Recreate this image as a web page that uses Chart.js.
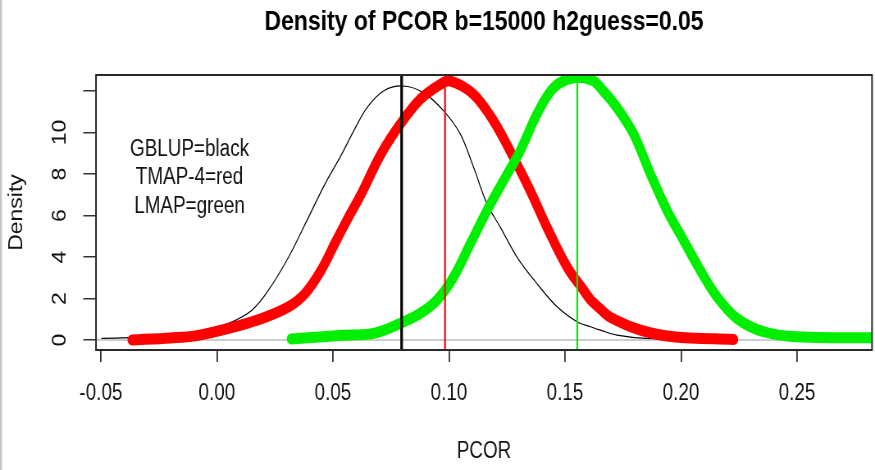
<!DOCTYPE html>
<html lang="en">
<head>
    <meta charset="UTF-8">
    <title>Density of PCOR</title>
    <script src="https://cdn.jsdelivr.net/npm/chart.js"></script>
    <style>
        html, body { margin: 0; padding: 0; background: #fff; overflow: hidden; }
        /* the whole figure is drawn wide and squeezed to 875px */
        #wrap { width: 1067px; height: 470px; transform: scaleX(0.82005); transform-origin: 0 0; }
    </style>
</head>
<body>
    <div id="wrap"><canvas id="densChart" width="1067" height="470"></canvas></div>

    <script>
        // density curves (PCOR, density)
        const gblupX = [-0.0496, -0.0238, -0.0079, 0.005, 0.0151, 0.0222, 0.0309, 0.0395, 0.0467, 0.0535, 0.0593,
                        0.0647, 0.0718, 0.0800, 0.0890, 0.0977, 0.1049, 0.1106, 0.1164, 0.1221, 0.1293, 0.1379,
                        0.1466, 0.1552, 0.1610, 0.1652, 0.1724, 0.1850, 0.2100];
        const gblupY = [0.08, 0.16, 0.32, 0.80, 1.44, 2.40, 4.00, 5.92, 7.55, 8.90, 10.15,
                        11.2, 12.0, 12.24, 11.92, 11.04, 9.92, 8.32, 6.56, 5.44, 4.00, 2.72,
                        1.60, 0.88, 0.64, 0.48, 0.24, 0.08, 0.02];

        const tmapX = [-0.0366, -0.0200, -0.0094, 0.005, 0.0194, 0.0309, 0.038, 0.0451, 0.051, 0.0567, 0.0618,
                       0.0704, 0.079, 0.0876, 0.0963, 0.1006, 0.1106, 0.1192, 0.1278, 0.135, 0.1422, 0.1509,
                       0.158, 0.1609, 0.1652, 0.1695, 0.1825, 0.1968, 0.2227];
        const tmapY = [0.0, 0.1, 0.2, 0.56, 1.04, 1.6, 2.24, 3.4, 4.7, 5.92, 6.95,
                       8.9, 10.4, 11.6, 12.32, 12.48, 11.84, 10.56, 8.8, 7.2, 5.44, 3.52,
                       2.4, 1.95, 1.5, 1.1, 0.48, 0.16, 0.03];

        const lmapX = [0.032, 0.053, 0.0675, 0.079, 0.0876, 0.0948, 0.102, 0.1092, 0.1164, 0.1235, 0.1307,
                       0.1379, 0.1451, 0.1537, 0.162, 0.1665, 0.1724, 0.1796, 0.1868, 0.194, 0.2011, 0.2083,
                       0.2155, 0.2241, 0.2356, 0.25, 0.29];
        const lmapY = [0.05, 0.22, 0.32, 0.8, 1.28, 1.92, 3.04, 4.64, 6.24, 7.68, 9.12,
                       10.88, 12.16, 12.64, 12.5, 12.0, 11.2, 9.92, 8.0, 6.24, 4.8, 3.36,
                       2.08, 1.04, 0.4, 0.16, 0.1];

        // mean PCOR of GBLUP, TMAP-4, LMAP
        const meanPcor = [0.0796, 0.0983, 0.1553];

        const xTicks = [-0.05, 0, 0.05, 0.10, 0.15, 0.20, 0.25];
        const xTickLabels = ['-0.05', '0.00', '0.05', '0.10', '0.15', '0.20', '0.25'];
        const yTicks = [0, 2, 4, 6, 8, 10, 12];
        const yTickLabels = ['0', '2', '4', '6', '8', '10', ''];
        const legendLines = ['GBLUP=black', 'TMAP-4=red', 'LMAP=green'];

        const xMin = -0.0521, xMax = 0.2823;
        const yMin = -0.48, yMax = 12.77;

        const pts = (xs, ys) => xs.map((x, i) => ({ x: x, y: ys[i] }));
        const vline = v => [{ x: v, y: yMin }, { x: v, y: yMax }];

        const FONT = 'Liberation Sans, Arial, sans-serif';

        // box, left frame edge and the colour key text
        const decor = {
            id: 'decor',
            afterDraw(chart) {
                const { ctx, chartArea: a, scales: { x, y } } = chart;
                ctx.save();
                ctx.fillStyle = '#c4c4c4';
                ctx.fillRect(0, 0, 2.4, chart.height);
                ctx.strokeStyle = '#2a2a2a';
                ctx.lineWidth = 2;
                ctx.strokeRect(a.left, a.top, a.right - a.left, a.bottom - a.top);
                ctx.fillStyle = '#111';
                ctx.font = '23px ' + FONT;
                ctx.textAlign = 'center';
                ctx.textBaseline = 'middle';
                const keyY = [9.15, 7.8, 6.45];
                legendLines.forEach((t, i) => {
                    ctx.fillText(t, x.getPixelForValue(-0.0118), y.getPixelForValue(keyY[i]));
                });
                ctx.restore();
            }
        };

        const line = (data, color, width, order) => ({
            data: data, borderColor: color, borderWidth: width, pointRadius: 0,
            tension: 0.35, borderCapStyle: 'round', borderJoinStyle: 'round',
            clip: 0, order: order
        });

        new Chart(document.getElementById('densChart'), {
            type: 'line',
            data: {
                datasets: [
                    line(vline(meanPcor[0]), '#000', 3.2, 0),
                    line(vline(meanPcor[1]), '#ff0000', 2.2, 0),
                    line(vline(meanPcor[2]), '#00ee00', 2.2, 0),
                    line(pts(lmapX, lmapY), '#00ee00', 11, 1),
                    line(pts(tmapX, tmapY), '#ff0000', 11, 2),
                    line(pts(gblupX, gblupY), '#000', 1.2, 3),
                    line([{ x: xMin, y: 0 }, { x: xMax, y: 0 }], '#bdbdbd', 1.5, 4)
                ]
            },
            options: {
                responsive: false,
                animation: false,
                layout: { padding: { left: 0, right: 3.65, top: 0, bottom: 0 } },
                plugins: {
                    legend: { display: false },
                    tooltip: { enabled: false },
                    title: {
                        display: true,
                        fullSize: false,
                        text: 'Density of PCOR b=15000 h2guess=0.05',
                        color: '#000',
                        font: { family: FONT, size: 28, weight: 'bold' },
                        padding: { top: 5.2, bottom: 36.2 }
                    }
                },
                scales: {
                    x: {
                        type: 'linear',
                        min: xMin,
                        max: xMax,
                        afterFit: s => { s.height = 120; },
                        afterBuildTicks: s => { s.ticks = xTicks.map(v => ({ value: v })); },
                        ticks: {
                            callback: (v, i) => xTickLabels[i],
                            color: '#111',
                            font: { family: FONT, size: 23 },
                            padding: 18.2,
                            maxRotation: 0,
                            autoSkip: false
                        },
                        grid: { drawOnChartArea: false, tickLength: 12, color: '#333', lineWidth: 1.8 },
                        border: { display: false },
                        title: {
                            display: true,
                            text: 'PCOR',
                            color: '#111',
                            font: { family: FONT, size: 23 },
                            padding: { top: 0, bottom: 4.2 }
                        }
                    },
                    y: {
                        type: 'linear',
                        min: yMin,
                        max: yMax,
                        afterFit: s => { s.width = 117.07; },
                        afterBuildTicks: s => { s.ticks = yTicks.map(v => ({ value: v })); },
                        ticks: {
                            callback: (v, i) => yTickLabels[i],
                            color: '#111',
                            font: { family: FONT, size: 23 },
                            padding: 15.6,
                            minRotation: 90,
                            maxRotation: 90,
                            crossAlign: 'center',
                            autoSkip: false
                        },
                        grid: { drawOnChartArea: false, tickLength: 15.5, color: '#333', lineWidth: 1.5 },
                        border: { display: false },
                        title: {
                            display: true,
                            text: 'Density',
                            color: '#111',
                            font: { family: FONT, size: 23 },
                            padding: { top: 6.6, bottom: 0 }
                        }
                    }
                }
            },
            plugins: [decor]
        });
    </script>
</body>
</html>
